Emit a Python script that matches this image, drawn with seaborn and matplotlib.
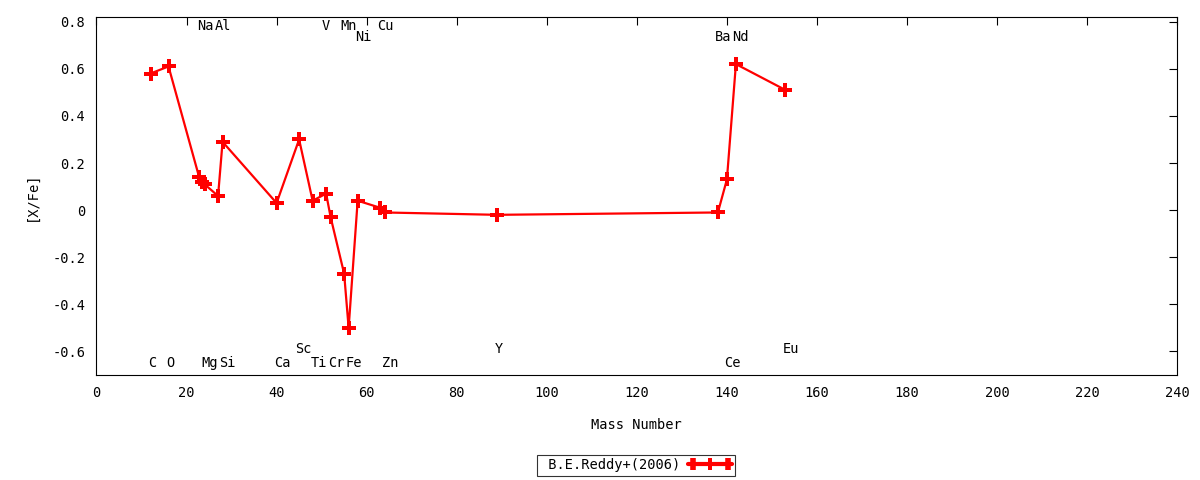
import numpy as np
import pandas as pd
import matplotlib
matplotlib.use('Agg')
import matplotlib.pyplot as plt
from matplotlib.lines import Line2D
from matplotlib.legend_handler import HandlerLine2D, HandlerTuple
import seaborn as sns

# abundance data
mass = [12, 16, 22.8, 23.4, 24.0, 27, 28, 40, 45, 48, 51, 52, 55, 56, 58, 63, 64,
        89, 138, 140, 142, 153]
xfe = [0.58, 0.61, 0.14, 0.12, 0.11, 0.06, 0.29, 0.03, 0.30, 0.04, 0.07, -0.03,
       -0.27, -0.50, 0.04, 0.01, -0.01, -0.02, -0.01, 0.13, 0.62, 0.51]

# element labels: name, x, y
lab_names = ['C', 'O', 'Na', 'Al', 'Mg', 'Si', 'Ca', 'Sc', 'Ti', 'Cr', 'Fe', 'V',
             'Mn', 'Ni', 'Cu', 'Zn', 'Y', 'Ba', 'Nd', 'Ce', 'Eu']
lab_x = [12.3, 16.3, 24.1, 28.1, 25.1, 29.0, 41.2, 45.9, 49.4, 53.2, 57.2, 51.0,
         56.1, 59.2, 64.2, 65.2, 89.4, 139.2, 143.0, 141.2, 154.2]
lab_y = [-0.651, -0.651, 0.78, 0.78, -0.651, -0.651, -0.651, -0.59, -0.651, -0.651,
         -0.651, 0.78, 0.78, 0.736, 0.78, -0.651, -0.59, 0.736, 0.736, -0.651, -0.59]

xticks = list(range(0, 241, 20))
yticks = [-0.6, -0.4, -0.2, 0, 0.2, 0.4, 0.6, 0.8]

sns.set_style('white')
plt.rcParams['font.family'] = ['DejaVu Sans Mono']
plt.rcParams['text.color'] = 'black'
plt.rcParams['axes.labelcolor'] = 'black'
plt.rcParams['xtick.color'] = 'black'
plt.rcParams['ytick.color'] = 'black'
fs = 9.8

df = pd.DataFrame({'mass': mass, 'xfe': xfe})

fig = plt.figure(figsize=(12, 4.8), dpi=100)
ax = fig.add_axes([0.0804, 0.2188, 0.9006, 0.7458])

red = '#ff0000'
sns.lineplot(data=df, x='mass', y='xfe', ax=ax, color=red, marker='P',
             markersize=9.5, markeredgewidth=0, linewidth=1.6, sort=True)

for name, lx, ly in zip(lab_names, lab_x, lab_y):
    ax.text(lx, ly, name, ha='center', va='center', fontsize=fs)

ax.set_xlim(0, 240)
ax.set_ylim(-0.7, 0.82)
ax.set_xticks(xticks)
ax.set_yticks(yticks)
ax.set_yticklabels(['-0.6', '-0.4', '-0.2', '0', '0.2', '0.4', '0.6', '0.8'])
ax.tick_params(direction='in', length=6, width=0.8, top=True, right=True,
               labelsize=fs, pad=8)
for sp in ax.spines.values():
    sp.set_color('black')
    sp.set_linewidth(0.8)

ax.set_xlabel('Mass Number', labelpad=13, fontsize=fs)
ax.set_ylabel('[X/Fe]', labelpad=10, fontsize=fs)

# legend sample: thick line with end caps and a plus in the middle
h_line = Line2D([], [], color=red, linewidth=3, marker='P', markersize=8,
                markeredgewidth=0)
h_caps = Line2D([], [], color=red, linewidth=0, marker='|', markersize=9,
                markeredgewidth=4)
leg = ax.legend([(h_line, h_caps)], [' B.E.Reddy+(2006)'], loc='center',
                bbox_to_anchor=(0.53, 0.031), bbox_transform=fig.transFigure,
                frameon=True, fancybox=False, edgecolor='black', markerfirst=False,
                handlelength=3.2, borderpad=0.25, handletextpad=0.6, fontsize=fs,
                handler_map={h_caps: HandlerLine2D(numpoints=2),
                             h_line: HandlerLine2D(numpoints=1),
                             tuple: HandlerTuple(ndivide=1)})
leg.get_frame().set_linewidth(0.8)

fig.savefig('out.png', dpi=100)
